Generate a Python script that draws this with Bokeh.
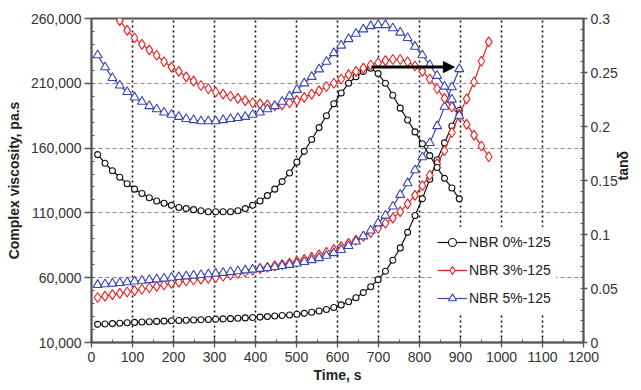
import math
from bokeh.plotting import figure
from bokeh.models import Range1d, LinearAxis, FixedTicker, NumeralTickFormatter, Arrow, NormalHead
from bokeh.embed import file_html
from bokeh.resources import INLINE

# ---------------- data ----------------
time_s = [15, 33, 51, 69, 87, 105, 123, 141, 159, 177, 195, 213, 231, 249, 267, 285,
          303, 321, 339, 357, 375, 393, 411, 429, 447, 465, 483, 501, 519, 537, 555,
          573, 591, 609, 627, 645, 663, 681, 699, 717, 735, 753, 771, 789, 807, 825,
          843, 861, 879, 897, 915, 933, 951, 969]

# complex viscosity, pa.s (left axis)
visc_nbr0 = [24000, 24300, 24600, 24900, 25200, 25500, 25800, 26000, 26300, 26500,
             26800, 27000, 27200, 27400, 27600, 27800, 28000, 28200, 28400, 28700,
             29000, 29300, 29600, 30000, 30400, 30800, 31200, 31800, 32500, 33300,
             34300, 35500, 37000, 39000, 41500, 44500, 48500, 53000, 58500, 65000,
             73500, 83000, 95000, 108000, 121000, 136000, 151000, 164000, 177000, 189000]
visc_nbr3 = [44700, 45800, 46900, 47900, 49000, 50000, 51100, 52200, 53300, 54400,
             55600, 56600, 57400, 58200, 58900, 59500, 60200, 61100, 62100, 63200,
             64400, 65700, 67000, 68100, 69100, 70100, 71300, 72600, 74100, 75800,
             77600, 79600, 81700, 84000, 86500, 89000, 91800, 94800, 98200, 102000,
             106000, 111000, 117000, 123500, 131000, 139000, 148000, 158000, 172000, 186000,
             198000, 211000, 227000, 242000]
visc_nbr5 = [54500, 55000, 55500, 56000, 56600, 57200, 57700, 58300, 58800, 59400,
             60000, 60600, 61100, 61700, 62200, 62700, 63200, 63800, 64400, 65000,
             65700, 66300, 66900, 67600, 68300, 69100, 70000, 71000, 72200, 73600,
             75200, 77000, 79000, 81500, 84500, 88000, 92000, 96500, 102000, 108000,
             115000, 124000, 133000, 143000, 153000, 164000, 177000, 192000, 207000, 221000]

# tan delta (right axis)
tan_nbr0 = [0.174, 0.166, 0.159, 0.153, 0.147, 0.142, 0.138, 0.134, 0.131, 0.129,
            0.127, 0.125, 0.124, 0.123, 0.122, 0.121, 0.121, 0.121, 0.121, 0.122,
            0.124, 0.127, 0.131, 0.136, 0.142, 0.149, 0.157, 0.167, 0.177, 0.188,
            0.199, 0.210, 0.221, 0.231, 0.240, 0.246, 0.251, 0.254, 0.249, 0.240,
            0.229, 0.217, 0.206, 0.195, 0.184, 0.173, 0.162, 0.152, 0.143, 0.133]
tan_nbr3 = [0.335, 0.322, 0.309, 0.298, 0.289, 0.282, 0.276, 0.271, 0.266, 0.260,
            0.255, 0.251, 0.246, 0.242, 0.238, 0.235, 0.232, 0.230, 0.228, 0.226,
            0.224, 0.222, 0.221, 0.220, 0.219, 0.220, 0.222, 0.224, 0.227, 0.230,
            0.233, 0.237, 0.240, 0.244, 0.248, 0.251, 0.254, 0.257, 0.259, 0.261,
            0.262, 0.262, 0.260, 0.256, 0.251, 0.244, 0.235, 0.226, 0.218, 0.210,
            0.202, 0.192, 0.182, 0.172]
tan_nbr5 = [0.266, 0.255, 0.245, 0.238, 0.232, 0.227, 0.223, 0.219, 0.216, 0.213,
            0.211, 0.209, 0.207, 0.206, 0.205, 0.205, 0.205, 0.206, 0.207, 0.208,
            0.209, 0.211, 0.213, 0.216, 0.219, 0.223, 0.228, 0.234, 0.240, 0.246,
            0.253, 0.260, 0.268, 0.275, 0.281, 0.286, 0.290, 0.293, 0.294, 0.294,
            0.291, 0.287, 0.282, 0.274, 0.266, 0.257, 0.247, 0.237, 0.225, 0.210]

series_labels = ["NBR 0%-125", "NBR 3%-125", "NBR 5%-125"]
x_tick_values = [0, 100, 200, 300, 400, 500, 600, 700, 800, 900, 1000, 1100, 1200]
left_tick_values = [10000, 60000, 110000, 160000, 210000, 260000]
right_tick_values = [0, 0.05, 0.1, 0.15, 0.2, 0.25, 0.3]

# arrow (time, s and tan delta)
arrow_t_start, arrow_t_end, arrow_tan = 683, 885, 0.255

# ---------------- styles ----------------
FONT = "Liberation Sans"
BLACK, RED, BLUE = "#111111", "#e8231f", "#3a46b0"
AXIS_C = "#555555"
TICK_TXT = "#333333"

p = figure(width=641, height=390, output_backend="svg", toolbar_location=None,
           x_range=Range1d(0, 1200), y_range=Range1d(10000, 260000),
           min_border_left=91, min_border_right=51, min_border_top=18, min_border_bottom=48,
           background_fill_color="white", border_fill_color="white")
p.extra_y_ranges = {"tan": Range1d(0, 0.3)}

p.outline_line_color = AXIS_C
p.outline_line_width = 2

# grids
p.xgrid.ticker = FixedTicker(ticks=x_tick_values[1:-1])
p.xgrid.grid_line_color = "#111111"
p.xgrid.grid_line_dash = "2 3"
p.xgrid.grid_line_width = 1.6
p.ygrid.ticker = FixedTicker(ticks=left_tick_values[1:-1])
p.ygrid.grid_line_color = "#8a8a8a"
p.ygrid.grid_line_dash = "4 3"
p.ygrid.grid_line_width = 1

def style_axis(ax):
    ax.axis_line_color = AXIS_C
    ax.axis_line_width = 1.5
    ax.major_tick_line_color = AXIS_C
    ax.minor_tick_line_color = AXIS_C
    ax.major_tick_line_width = 1.3
    ax.minor_tick_line_width = 1
    ax.major_label_text_font = FONT
    ax.major_label_text_font_size = "14px"
    ax.major_label_text_color = TICK_TXT
    ax.axis_label_text_font = FONT
    ax.axis_label_text_font_size = "14px"
    ax.axis_label_text_font_style = "bold"
    ax.axis_label_text_color = "#222222"

# x axis
xa = p.xaxis[0]
xa.ticker = FixedTicker(ticks=x_tick_values,
                        minor_ticks=[50 + 100 * i for i in range(12)])
xa.axis_label = "Time, s"
style_axis(xa)
xa.major_tick_in = 5
xa.major_tick_out = 5
xa.minor_tick_in = 3
xa.minor_tick_out = 0
xa.major_label_standoff = 4
xa.axis_label_standoff = 2

# left axis
ya = p.yaxis[0]
ya.ticker = FixedTicker(ticks=left_tick_values,
                        minor_ticks=[10000 + 10000 * i for i in range(26)])
ya.formatter = NumeralTickFormatter(format="0,0")
ya.axis_label = "Complex viscosity, pa.s"
style_axis(ya)
ya.major_tick_in = 0
ya.major_tick_out = 7
ya.minor_tick_in = 3
ya.minor_tick_out = 0
ya.major_label_standoff = 3
ya.axis_label_standoff = 6

# right axis
ra = LinearAxis(y_range_name="tan",
                ticker=FixedTicker(ticks=right_tick_values,
                                   minor_ticks=[0.01 * i for i in range(31)]),
                axis_label="tanδ")
style_axis(ra)
ra.major_tick_in = 0
ra.major_tick_out = 4
ra.minor_tick_in = 3
ra.minor_tick_out = 0
ra.major_label_standoff = 3
ra.axis_label_standoff = 2
ra.axis_label_orientation = 1.5706
p.add_layout(ra, "right")

# viscosity curves
t50 = time_s[:50]
p.line(t50, visc_nbr0, color=BLACK, line_width=1.2, legend_label=series_labels[0])
p.scatter(t50, visc_nbr0, marker="circle", size=6, fill_color="white", line_color=BLACK,
          line_width=1.1, legend_label=series_labels[0])
p.line(time_s, visc_nbr3, color=RED, line_width=1.2, legend_label=series_labels[1])
p.scatter(time_s, visc_nbr3, marker="diamond", size=10, fill_color="white", line_color=RED,
          line_width=1.1, legend_label=series_labels[1])
p.line(t50, visc_nbr5, color=BLUE, line_width=1.2, legend_label=series_labels[2])
p.scatter(t50, visc_nbr5, marker="triangle", size=9, fill_color="white", line_color=BLUE,
          line_width=1.1, legend_label=series_labels[2])

# tan delta curves
p.line(t50, tan_nbr0, color=BLACK, line_width=1.2, y_range_name="tan")
p.scatter(t50, tan_nbr0, marker="circle", size=6, fill_color="white", line_color=BLACK,
          line_width=1.1, y_range_name="tan")
p.line(time_s, tan_nbr3, color=RED, line_width=1.2, y_range_name="tan")
p.scatter(time_s, tan_nbr3, marker="diamond", size=10, fill_color="white", line_color=RED,
          line_width=1.1, y_range_name="tan")
p.line(t50, tan_nbr5, color=BLUE, line_width=1.2, y_range_name="tan")
p.scatter(t50, tan_nbr5, marker="triangle", size=9, fill_color="white", line_color=BLUE,
          line_width=1.1, y_range_name="tan")

# arrow
p.add_layout(Arrow(end=NormalHead(size=11, fill_color="black", line_color="black"),
                   x_start=arrow_t_start, y_start=arrow_tan,
                   x_end=arrow_t_end, y_end=arrow_tan,
                   y_range_name="tan", line_width=3, line_color="black"))

# legend
lg = p.legend[0]
lg.location = (341, 29)
lg.background_fill_color = "white"
lg.background_fill_alpha = 1
lg.border_line_alpha = 0
lg.label_text_font = FONT
lg.label_text_font_size = "14px"
lg.label_text_color = "#222222"
lg.glyph_width = 30
lg.glyph_height = 20
lg.label_height = 20
lg.label_standoff = 2
lg.spacing = 8
lg.padding = 5
lg.margin = 0

open("out.html", "w").write(file_html(p, INLINE))
